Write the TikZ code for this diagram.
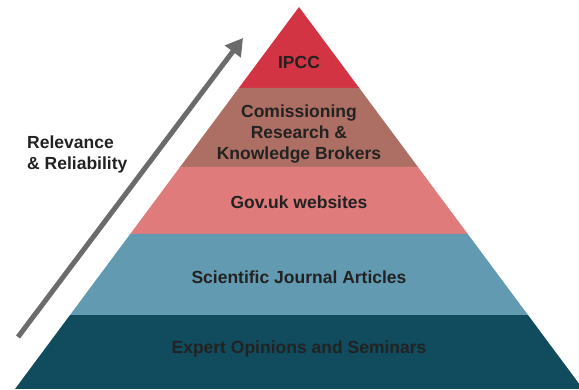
\documentclass[tikz,border=0pt]{standalone}
\usepackage{fontspec}
\setmainfont{Liberation Sans}
\usetikzlibrary{arrows.meta,calc}
\definecolor{cIPCC}{HTML}{D33444}
\definecolor{cComm}{HTML}{AD6F63}
\definecolor{cGov}{HTML}{E07B7C}
\definecolor{cSci}{HTML}{629AB1}
\definecolor{cExp}{HTML}{114B5E}
\definecolor{cText}{HTML}{222222}
\definecolor{cArrow}{HTML}{6B6B6B}
\tikzset{
  lbl/.style={font=\fontsize{17.5}{21}\selectfont\bfseries, text=cText, align=center, inner sep=0pt},
  sidelbl/.style={font=\fontsize{17.5}{21}\selectfont\bfseries, text=cText, align=left, inner sep=0pt, anchor=west},
  bigarrow/.style={draw=cArrow, line width=5pt, -{Triangle[length=17pt,width=19pt]}}
}
\begin{document}
\begin{tikzpicture}[x=1pt,y=-1pt]
\useasboundingbox (0,0) rectangle (579,390);
\clip (0,0) rectangle (579,390);
\coordinate (A) at (299,7);
\coordinate (L) at (15,389);
\coordinate (R) at (583,389);
\foreach \n/\t in {1/0.2120,2/0.4188,3/0.5942,4/0.8063}{
  \coordinate (L\n) at ($(A)!\t!(L)$);
  \coordinate (R\n) at ($(A)!\t!(R)$);
}
\fill[cIPCC] (A) -- (L1) -- (R1) -- cycle;
\fill[cComm] (L1) -- (L2) -- (R2) -- (R1) -- cycle;
\fill[cGov] (L2) -- (L3) -- (R3) -- (R2) -- cycle;
\fill[cSci] (L3) -- (L4) -- (R4) -- (R3) -- cycle;
\fill[cExp] (L4) -- (L) -- (R) -- (R4) -- cycle;
\node[lbl] (ipcc) at (299,62) {IPCC};
\node[lbl] (comm) at (299,134) {Comissioning\\Research \&\\Knowledge Brokers};
\node[lbl] (gov) at (299,202) {Gov.uk websites};
\node[lbl] (sci) at (299,277) {Scientific Journal Articles};
\node[lbl] (exp) at (299,349) {Expert Opinions and Seminars};
\node[sidelbl] (rel) at (27,154) {Relevance\\\& Reliability};
\coordinate (tail) at (18,337);
\coordinate (tip) at (243,38);
\draw[bigarrow] (tail) -- (tip);
\end{tikzpicture}
\end{document}
